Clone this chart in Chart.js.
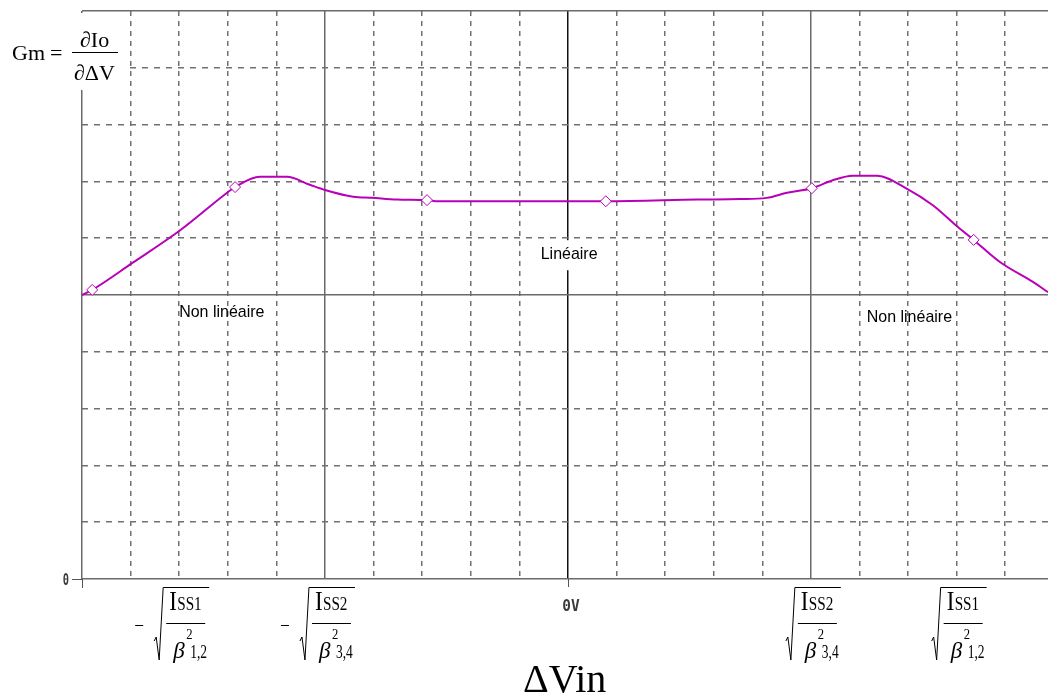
<!DOCTYPE html>
<html>
<head>
<meta charset="utf-8">
<script src="https://cdn.jsdelivr.net/npm/chart.js@4"></script>
<style>
html,body{margin:0;padding:0;background:#fff;overflow:hidden}
</style>
</head>
<body>
<canvas id="chart" width="1048" height="700"></canvas>
<script>

/* DATA */

const curveX = [-10, -9.79, -8.97, -7.98, -7.0, -6.85, -6.34, -5.78, -5.31, -5.0, -4.42, -4.03, -3.52, -2.90, -2.67, 0.78, 2.67, 3.54, 4.09, 4.51, 5.02, 5.45, 5.86, 6.36, 6.98, 7.51, 8.02, 8.35, 8.89, 9.57, 9.88];
const curveY = [5.00, 5.09, 5.56, 6.14, 6.81, 6.90, 7.08, 7.08, 6.94, 6.85, 6.73, 6.71, 6.68, 6.67, 6.65, 6.65, 6.68, 6.69, 6.71, 6.80, 6.88, 7.02, 7.10, 7.10, 6.87, 6.58, 6.20, 5.97, 5.58, 5.23, 5.05];

const markerX = [-9.79, -6.85, -2.90, 0.78, 5.02, 8.35];
const markerY = [5.09, 6.90, 6.67, 6.65, 6.88, 5.97];

const gridX = [-10, -9, -8, -7, -6, -5, -4, -3, -2, -1, 0, 1, 2, 3, 4, 5, 6, 7, 8, 9];
const solidX = [-10, -5, 0, 5];
const gridY = [0, 1, 2, 3, 4, 5, 6, 7, 8, 9, 10];
const solidY = [0, 5, 10];

const tickValues = [-8, -5, 5, 8];
const tickSigns = ["-", "-", "", ""];
const tickNum = ["SS1", "SS2", "SS2", "SS1"];
const tickDen = ["1,2", "3,4", "3,4", "1,2"];

const zoneLabels = ["Non linéaire", "Linéaire", "Non linéaire"];
const zoneX = [-8, -0.56, 6.15];
const zoneY = [4.61, 5.63, 4.52];

const curveColor = "#b800b8";

/* EXTRA TEXT */

function txt(ctx, t, x, y, font, sx, align){

    ctx.save();
    ctx.translate(x, y);
    ctx.scale(sx, 1);
    ctx.font = font;
    ctx.textAlign = align || "left";
    ctx.fillText(t, 0, 0);
    ctx.restore();

}

function drawRoot(ctx, cx, top, sign, num, den){

    ctx.strokeStyle = "#000";
    ctx.lineWidth = 1;

    if(sign){
        ctx.beginPath();
        ctx.moveTo(cx-50, top+38.5);
        ctx.lineTo(cx-42, top+38.5);
        ctx.stroke();
    }

    ctx.beginPath();
    ctx.moveTo(cx-31, top+54);
    ctx.lineTo(cx-29, top+50);
    ctx.lineTo(cx-26, top+73);
    ctx.lineTo(cx-22, top+0.5);
    ctx.lineTo(cx+24, top+0.5);
    ctx.stroke();

    ctx.beginPath();
    ctx.moveTo(cx-19, top+36.5);
    ctx.lineTo(cx+20, top+36.5);
    ctx.stroke();

    ctx.fillStyle = "#000";
    ctx.textBaseline = "alphabetic";
    txt(ctx, "I", cx-16, top+23, '27px "Liberation Serif"', 0.85);
    txt(ctx, num, cx-8, top+23, '19px "Liberation Serif"', 0.8);
    txt(ctx, "β", cx-12, top+71, 'italic 23px "Liberation Serif"', 1.0);
    txt(ctx, "2", cx+1, top+52, '14px "Liberation Serif"', 0.9);
    txt(ctx, den, cx+5, top+71, '18px "Liberation Serif"', 0.75);

}

const annot = {

    id:"annot",

    afterDraw(chart){

        const ctx = chart.ctx;
        const x = chart.scales.x;
        const y = chart.scales.y;
        const area = chart.chartArea;

        ctx.save();

        // Gm formula
        ctx.fillStyle = "#fff";
        ctx.fillRect(0, area.top+2, 126, 77);
        ctx.fillStyle = "#000";
        ctx.textBaseline = "alphabetic";
        ctx.font = '22px "Liberation Serif"';
        ctx.fillText("Gm", 12, 60);
        ctx.fillText("=", 50, 60);
        ctx.fillText("∂Io", 80, 47);
        ctx.fillText("∂ΔV", 74, 80);
        ctx.strokeStyle = "#000";
        ctx.lineWidth = 1;
        ctx.beginPath();
        ctx.moveTo(72, 52.5);
        ctx.lineTo(118, 52.5);
        ctx.stroke();

        // zone labels
        zoneLabels.forEach((t,i)=>{
            const px = x.getPixelForValue(zoneX[i]);
            const py = y.getPixelForValue(zoneY[i]);
            if(t === "Linéaire"){
                ctx.fillStyle = "#fff";
                ctx.fillRect(px-3, py-19, 66, 30);
            }
            ctx.fillStyle = "#000";
            txt(ctx, t, px, py, '17px "Liberation Sans"', 0.94);
        });

        // small axis ticks
        ctx.strokeStyle = "#555";
        ctx.lineWidth = 1;
        ctx.beginPath();
        ctx.moveTo(area.left-10, area.bottom+0.5);
        ctx.lineTo(area.left, area.bottom+0.5);
        ctx.moveTo(area.left+0.5, area.bottom);
        ctx.lineTo(area.left+0.5, area.bottom+9);
        const x0 = Math.round(x.getPixelForValue(0))+0.5;
        ctx.moveTo(x0, area.bottom);
        ctx.lineTo(x0, area.bottom+8);
        ctx.stroke();

        ctx.fillStyle = "#3a3a3a";
        txt(ctx, "0", area.left-13, y.getPixelForValue(0)+6, 'bold 16px "DejaVu Sans Mono"', 0.65, "right");
        txt(ctx, "0V", x.getPixelForValue(0)+3, area.bottom+32, 'bold 16px "DejaVu Sans Mono"', 0.9, "center");

        // x tick formulas
        tickValues.forEach((v,i)=>{
            drawRoot(ctx, x.getPixelForValue(v)+6, area.bottom+8, tickSigns[i], tickNum[i], tickDen[i]);
        });

        // axis title
        ctx.fillStyle = "#000";
        ctx.textAlign = "left";
        ctx.textBaseline = "alphabetic";
        ctx.font = '40px "Liberation Serif"';
        ctx.fillText("ΔVin", 523, 692);

        ctx.restore();

    }

};

/* CHART */

new Chart(document.getElementById("chart"),{

    type:"line",

    data:{

        datasets:[{
            label:"Gm",
            data:curveX.map((v,i)=>({x:v, y:curveY[i]})),
            borderColor:curveColor,
            borderWidth:2,
            pointRadius:0,
            cubicInterpolationMode:"monotone",
            fill:false,
            order:2
        },{
            label:"points",
            data:markerX.map((v,i)=>({x:v, y:markerY[i]})),
            showLine:false,
            pointStyle:"rectRot",
            pointRadius:5.5,
            borderColor:curveColor,
            backgroundColor:"#fff",
            pointBorderWidth:1,
            order:1
        }]

    },

    options:{

        responsive:false,
        devicePixelRatio:1,
        animation:false,
        layout:{autoPadding:false, padding:{left:82, top:11, right:0, bottom:121}},
        plugins:{legend:{display:false}, tooltip:{enabled:false}},

        scales:{

            x:{
                type:"linear", min:-10, max:9.88,
                afterBuildTicks:s=>{ s.ticks = gridX.map(v=>({value:v})); },
                ticks:{display:false},
                grid:{drawTicks:false, lineWidth:1.5, color:c=>solidX.includes(c.tick.value) ? "rgba(0,0,0,0)" : "#707070"},
                border:{display:false, dash:[5,5]}
            },

            xs:{
                type:"linear", position:"bottom", min:-10, max:9.88,
                afterBuildTicks:s=>{ s.ticks = solidX.map(v=>({value:v})); },
                ticks:{display:false},
                grid:{drawTicks:false, lineWidth:1.5, color:c=>c.tick.value === 0 ? "#111" : "#6a6a6a"},
                border:{display:false}
            },

            y:{
                type:"linear", min:0, max:10,
                afterBuildTicks:s=>{ s.ticks = gridY.map(v=>({value:v})); },
                ticks:{display:false},
                grid:{drawTicks:false, lineWidth:1.5, color:c=>solidY.includes(c.tick.value) ? "rgba(0,0,0,0)" : "#707070"},
                border:{display:false, dash:[6,6]}
            },

            ys:{
                type:"linear", position:"left", min:0, max:10,
                afterBuildTicks:s=>{ s.ticks = solidY.map(v=>({value:v})); },
                ticks:{display:false},
                grid:{drawTicks:false, lineWidth:1.5, color:"#6a6a6a"},
                border:{display:false}
            }

        }

    },

    plugins:[annot]

});

</script>
</body>
</html>
